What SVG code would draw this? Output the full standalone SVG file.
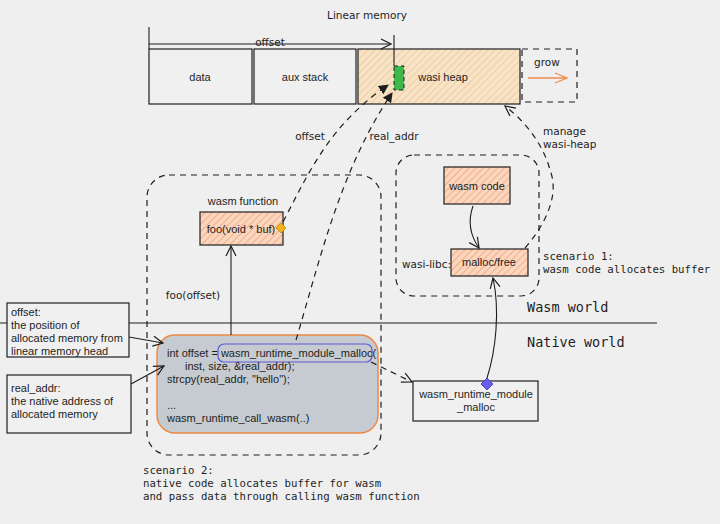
<svg xmlns="http://www.w3.org/2000/svg" width="720" height="524" viewBox="0 0 720 524">
<defs>
<pattern id="hatch" width="5" height="5" patternUnits="userSpaceOnUse" patternTransform="rotate(45)">
<rect width="5" height="5" fill="#fbd6bf"/>
<line x1="0" y1="0" x2="0" y2="5" stroke="#f0a477" stroke-width="1.6"/>
</pattern>
<pattern id="hatch2" width="5" height="5" patternUnits="userSpaceOnUse" patternTransform="rotate(45)">
<rect width="5" height="5" fill="#f6e3c8"/>
<line x1="0" y1="0" x2="0" y2="5" stroke="#f2c48a" stroke-width="1.4"/>
</pattern>
<marker id="open" viewBox="0 0 12 12" refX="11" refY="6" markerWidth="12" markerHeight="12" markerUnits="userSpaceOnUse" orient="auto">
<path d="M1,1 L11,6 L1,11" fill="none" stroke="#1e1e1e" stroke-width="1.2"/>
</marker>
<marker id="openO" viewBox="0 0 14 12" refX="13" refY="6" markerWidth="14" markerHeight="12" markerUnits="userSpaceOnUse" orient="auto">
<path d="M1,1 L13,6 L1,11" fill="none" stroke="#f08a4b" stroke-width="1.3"/>
</marker>
<marker id="tri" viewBox="0 0 10 10" refX="9" refY="5" markerWidth="10" markerHeight="10" markerUnits="userSpaceOnUse" orient="auto">
<path d="M0,0 L10,5 L0,10 Z" fill="#1e1e1e"/>
</marker>
<style>
.hand{font-family:"DejaVu Sans",sans-serif;font-size:10.5px;fill:#1e1e1e}
.sans{font-family:"Liberation Sans",Arial,sans-serif;font-size:11px;fill:#1e1e1e}
.mono{font-family:"DejaVu Sans Mono",monospace;font-size:10.7px;fill:#1e1e1e}
.big{font-family:"DejaVu Sans Mono",monospace;font-size:13.5px;fill:#1e1e1e}
.box{stroke:#1e1e1e;stroke-width:1.2}
.dash{fill:none;stroke:#1e1e1e;stroke-width:1.2;stroke-dasharray:6 5}
.line{fill:none;stroke:#1e1e1e;stroke-width:1.1}
</style>
</defs>
<rect width="720" height="524" fill="#efefef"/>

<g id="title"><text class="hand" x="367" y="19" text-anchor="middle" font-size="12">Linear memory</text></g>

<g id="mem-data"><rect x="149" y="49" width="103" height="55" fill="#f0f0f0" class="box"/><text class="sans" x="200" y="81" text-anchor="middle">data</text></g>
<g id="mem-aux"><rect x="254" y="49" width="102" height="55" fill="#f0f0f0" class="box"/><text class="sans" x="305" y="81" text-anchor="middle">aux stack</text></g>
<g id="mem-heap"><rect x="358" y="49" width="162" height="55" fill="url(#hatch2)" class="box"/><text class="sans" x="443" y="81" text-anchor="middle">wasi heap</text></g>
<g id="green"><rect x="394" y="66" width="10" height="24" fill="#3cb94a" stroke="#1e1e1e" stroke-width="1" stroke-dasharray="4 3"/></g>
<g id="grow"><rect x="522" y="49" width="55" height="53" class="dash"/><text class="hand" x="547" y="66" text-anchor="middle">grow</text></g>

<g id="scenario2-box"><rect x="147" y="175" width="234" height="280" rx="22" class="dash"/></g>
<g id="scenario1-box"><rect x="396" y="155" width="143" height="141" rx="18" class="dash"/></g>

<g id="foo"><text class="sans" x="243" y="205" text-anchor="middle">wasm function</text><rect x="200" y="212" width="83" height="33" fill="url(#hatch)" class="box"/><text class="sans" x="241" y="233" text-anchor="middle">foo(void * buf)</text><path d="M281,223 L286,228 L281,233 L276,228 Z" fill="#f2b31c" stroke="#d08a00" stroke-width="0.8"/></g>

<g id="wasm-code"><rect x="444" y="167" width="66" height="37" fill="url(#hatch)" class="box"/><text class="sans" x="477" y="190" text-anchor="middle">wasm code</text></g>
<g id="malloc-free"><text class="hand" x="402" y="268" font-size="8.3">wasi-libc:</text><rect x="451" y="249" width="77" height="27" fill="url(#hatch)" class="box"/><text class="sans" x="489" y="266" text-anchor="middle">malloc/free</text></g>

<g id="scenario1-text"><text class="mono" x="543" y="260">scenario 1:</text><text class="mono" x="543" y="273">wasm code allocates buffer</text></g>

<g id="worlds"><text class="big" x="527" y="312">Wasm world</text><line x1="0" y1="323" x2="657" y2="323" stroke="#1e1e1e" stroke-width="1.2"/><text class="big" x="527" y="347">Native world</text></g>

<g id="code"><rect x="157" y="335" width="221" height="98" rx="18" fill="#c6cbd1" stroke="#ec8a45" stroke-width="1.5"/>
<rect x="218" y="344" width="154" height="18" rx="6" fill="none" stroke="#5a5ad6" stroke-width="1.2"/>
<text class="sans" x="167" y="357">int offset = wasm_runtime_module_malloc(</text>
<text class="sans" x="185" y="370">inst, size, &amp;real_addr);</text>
<text class="sans" x="167" y="383">strcpy(real_addr, "hello");</text>
<text class="sans" x="167" y="409">...</text>
<text class="sans" x="167" y="422">wasm_runtime_call_wasm(..)</text></g>

<g id="module-malloc"><rect x="413" y="381" width="125" height="40" fill="#f0f0f0" class="box"/><text class="sans" x="476" y="398" text-anchor="middle">wasm_runtime_module</text><text class="sans" x="476" y="411" text-anchor="middle">_malloc</text><path d="M487,378 L493,384 L487,390 L481,384 Z" fill="#6a5df0" stroke="#3b30b0" stroke-width="0.8"/></g>

<g id="note-offset"><rect x="7" y="303" width="122" height="54" fill="#f0f0f0" class="box"/><text class="sans" x="11" y="316">offset:</text><text class="sans" x="11" y="329">the position of</text><text class="sans" x="11" y="342">allocated memory from</text><text class="sans" x="11" y="355">linear memory head</text></g>
<g id="note-real"><rect x="7" y="375" width="124" height="58" fill="#f0f0f0" class="box"/><text class="sans" x="11" y="392">real_addr:</text><text class="sans" x="11" y="405">the native address of</text><text class="sans" x="11" y="418">allocated memory</text></g>

<g id="scenario2-text"><text class="mono" x="143" y="474">scenario 2:</text><text class="mono" x="143" y="487">native code allocates buffer for wasm</text><text class="mono" x="143" y="500">and pass data through calling wasm function</text></g>

<g id="connectors">
<path d="M149,27 L149,49" class="line"/>
<path d="M149,44 L391,44" class="line" marker-end="url(#open)"/>
<text class="hand" x="270" y="46" text-anchor="middle">offset</text>
<path d="M394,35 L394,66" class="line"/>
<path d="M528,78 L567,78" fill="none" stroke="#f08a4b" stroke-width="1.3" marker-end="url(#openO)"/>
<path d="M283,222 C310,170 330,125 388,85" class="dash" marker-end="url(#tri)"/>
<text class="hand" x="310" y="140" text-anchor="middle">offset</text>
<path d="M296,340 C320,260 340,170 392,93" class="dash" marker-end="url(#tri)"/>
<text class="hand" x="394" y="140" text-anchor="middle">real_addr</text>
<path d="M231,335 L231,246" class="line" marker-end="url(#open)"/>
<text class="hand" x="193" y="299" text-anchor="middle">foo(offset)</text>
<path d="M473,206 C468,220 470,235 479,248" class="line" marker-end="url(#open)"/>
<path d="M525,248 C545,225 560,195 550,170 C545,150 530,125 505,106" class="dash" marker-end="url(#open)"/>
<text class="hand" x="543" y="135">manage</text>
<text class="hand" x="543" y="148">wasi-heap</text>
<path d="M371,362 L412,382" class="dash" marker-end="url(#open)"/>
<path d="M487,378 C496,350 500,310 493,278" class="line" marker-end="url(#open)"/>
<path d="M129,337 L163,343" class="line" marker-end="url(#open)"/>
<path d="M131,384 L164,366" class="line" marker-end="url(#open)"/>
</g>
</svg>
